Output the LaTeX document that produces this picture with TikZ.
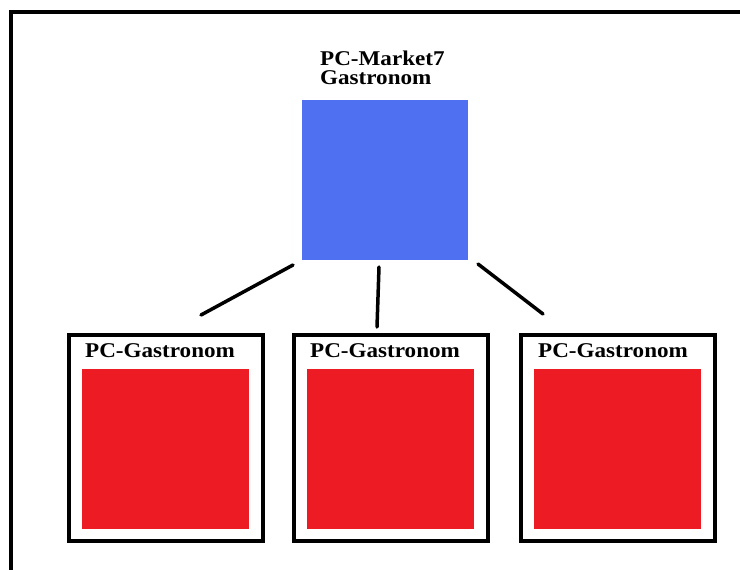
\documentclass[tikz,border=0pt]{standalone}
\usepackage{fontspec}
\setmainfont{Liberation Serif}
\newfontfamily\pcfont{Liberation Serif}[FakeStretch=1.1]
\usetikzlibrary{positioning}
\definecolor{marketblue}{RGB}{80,112,242}
\definecolor{gastrored}{RGB}{237,28,36}
\tikzset{
  pcbox/.style={draw=black, line width=4pt, minimum width=194pt, minimum height=206pt, inner sep=0pt},
  redbox/.style={fill=gastrored, minimum width=167pt, minimum height=160pt, inner sep=0pt},
  pclabel/.style={font=\pcfont\fontsize{21}{19}\selectfont\bfseries, inner sep=0pt},
  link/.style={line width=3.5pt, line cap=round}
}
\begin{document}
\begin{tikzpicture}[x=1pt, y=-1pt]
\useasboundingbox (0,0) rectangle (740,570);
% Outer frame (open at right and bottom)
\draw[line width=4pt] (11,575) -- (11,12) -- (745,12);

% Top machine
\node[pclabel, align=left, anchor=north west] (marketlbl) at (320,51) {PC-Market7\\Gastronom};
\node[fill=marketblue, minimum width=166pt, minimum height=160pt, inner sep=0pt] (market) at (385,180) {};

% Shop machines
\node[pcbox] (gastro1) at (166,438) {};
\node[redbox] (red1) at (165.5,449) {};
\node[pclabel, anchor=base west] (lbl1) at (85,357) {PC-Gastronom};

\node[pcbox] (gastro2) at (390.5,438) {};
\node[redbox] (red2) at (390,449) {};
\node[pclabel, anchor=base west] (lbl2) at (310,357) {PC-Gastronom};

\node[pcbox] (gastro3) at (617.5,438) {};
\node[redbox] (red3) at (617.5,449) {};
\node[pclabel, anchor=base west] (lbl3) at (538,357) {PC-Gastronom};

% Links
\coordinate (l1a) at (293,265);
\coordinate (l1b) at (201,315);
\coordinate (l2a) at (379,267);
\coordinate (l2b) at (377,327);
\coordinate (l3a) at (478,264);
\coordinate (l3b) at (543,314);
\draw[link] (l1a) -- (l1b);
\draw[link] (l2a) -- (l2b);
\draw[link] (l3a) -- (l3b);
\end{tikzpicture}
\end{document}
